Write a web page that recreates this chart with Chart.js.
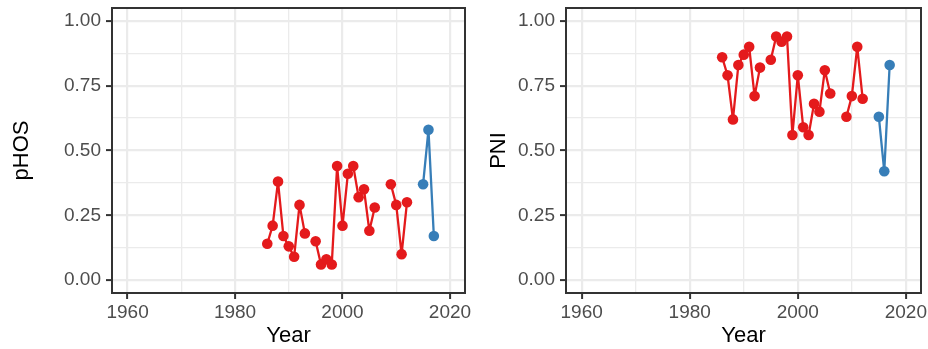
<!DOCTYPE html>
<html>
<head>
<meta charset="utf-8">
<script src="https://cdn.jsdelivr.net/npm/chart.js@4/dist/chart.umd.min.js"></script>
<style>
  html, body { margin: 0; padding: 0; background: #fff; }
  #wrap { position: relative; width: 928px; height: 349px; overflow: hidden; }
  canvas { position: absolute; top: 0; }
  #left { left: 0; }
  #right { left: 470px; }
</style>
</head>
<body>
<div id="wrap">
  <canvas id="left" width="476" height="349"></canvas>
  <canvas id="right" width="458" height="349"></canvas>
</div>
<script>
// red series, null = no value that year (line breaks)
const earlyYears = [1986, 1987, 1988, 1989, 1990, 1991, 1992, 1993, 1994, 1995, 1996, 1997, 1998, 1999,
  2000, 2001, 2002, 2003, 2004, 2005, 2006, 2007, 2008, 2009, 2010, 2011, 2012];
const phosEarly = [0.14, 0.21, 0.38, 0.17, 0.13, 0.09, 0.29, 0.18, null, 0.15, 0.06, 0.08, 0.06, 0.44,
  0.21, 0.41, 0.44, 0.32, 0.35, 0.19, 0.28, null, null, 0.37, 0.29, 0.10, 0.30];
const pniEarly = [0.86, 0.79, 0.62, 0.83, 0.87, 0.90, 0.71, 0.82, null, 0.85, 0.94, 0.92, 0.94, 0.56,
  0.79, 0.59, 0.56, 0.68, 0.65, 0.81, 0.72, null, null, 0.63, 0.71, 0.90, 0.70];

// blue series
const lateYears = [2015, 2016, 2017];
const phosLate = [0.37, 0.58, 0.17];
const pniLate = [0.63, 0.42, 0.83];

const xTicks = [1960, 1970, 1980, 1990, 2000, 2010, 2020];
const xLabels = [1960, 1980, 2000, 2020];
const yTicks = [0, 0.125, 0.25, 0.375, 0.5, 0.625, 0.75, 0.875, 1];
const yLabels = [0, 0.25, 0.5, 0.75, 1];

const RED = '#E41A1C';
const BLUE = '#377EB8';
const FONT = '"Liberation Sans", Arial, Helvetica, sans-serif';

const panelBorder = {
  id: 'panelBorder',
  afterDraw(chart) {
    const { ctx, chartArea: a } = chart;
    ctx.save();
    ctx.strokeStyle = '#333333';
    ctx.lineWidth = 2;
    ctx.strokeRect(a.left, a.top, a.right - a.left, a.bottom - a.top);
    ctx.restore();
  }
};

function series(xs, ys, color) {
  return {
    data: xs.map((x, i) => ({ x: x, y: ys[i] })),
    borderColor: color,
    backgroundColor: color,
    borderWidth: 2.3,
    borderJoinStyle: 'round',
    borderCapStyle: 'round',
    pointRadius: 5.3,
    pointBorderWidth: 0,
    pointBackgroundColor: color,
    spanGaps: false,
    tension: 0
  };
}

function makePanel(id, yTitle, early, late, axisWidth, titlePad, rightPad) {
  const isMajorX = v => xLabels.includes(v);
  const isMajorY = v => yLabels.includes(v);
  return new Chart(document.getElementById(id), {
    type: 'line',
    data: {
      datasets: [series(earlyYears, early, RED), series(lateYears, late, BLUE)]
    },
    options: {
      responsive: false,
      animation: false,
      events: [],
      layout: { padding: { top: 8, right: rightPad, bottom: 0, left: 0 } },
      plugins: { legend: { display: false }, tooltip: { enabled: false } },
      scales: {
        x: {
          type: 'linear',
          min: 1957.1,
          max: 2022.8,
          afterBuildTicks: s => { s.ticks = xTicks.map(v => ({ value: v })); },
          afterFit: s => { s.height = 56; s.paddingLeft = 0; s.paddingRight = 0; },
          border: { display: false },
          grid: {
            color: '#EBEBEB',
            lineWidth: c => (c.tick && isMajorX(c.tick.value)) ? 2.2 : 1.3,
            tickLength: 6,
            tickWidth: 2,
            tickColor: c => (c.tick && isMajorX(c.tick.value)) ? '#333333' : 'rgba(0,0,0,0)'
          },
          ticks: {
            autoSkip: false,
            maxRotation: 0,
            padding: 2,
            color: '#4D4D4D',
            font: { size: 19, family: FONT },
            callback: v => isMajorX(v) ? String(v) : ''
          },
          title: {
            display: true,
            text: 'Year',
            color: '#000000',
            font: { size: 22, family: FONT },
            padding: { top: 0, bottom: 0 }
          }
        },
        y: {
          type: 'linear',
          min: -0.05,
          max: 1.05,
          afterBuildTicks: s => { s.ticks = yTicks.map(v => ({ value: v })); },
          afterFit: s => { s.width = axisWidth; s.paddingTop = 0; s.paddingBottom = 0; },
          border: { display: false },
          grid: {
            color: '#EBEBEB',
            lineWidth: c => (c.tick && isMajorY(c.tick.value)) ? 2.2 : 1.3,
            tickLength: 6,
            tickWidth: 2,
            tickColor: c => (c.tick && isMajorY(c.tick.value)) ? '#333333' : 'rgba(0,0,0,0)'
          },
          ticks: {
            autoSkip: false,
            padding: 5,
            color: '#4D4D4D',
            font: { size: 19, family: FONT },
            callback: v => isMajorY(v) ? v.toFixed(2) : ''
          },
          title: {
            display: true,
            text: yTitle,
            color: '#000000',
            font: { size: 22, family: FONT },
            padding: { top: titlePad, bottom: 0 }
          }
        }
      }
    },
    plugins: [panelBorder]
  });
}

makePanel('left', 'pHOS', phosEarly, phosLate, 112, 9, 11);
makePanel('right', 'PNI', pniEarly, pniLate, 96, 16, 7);
</script>
</body>
</html>
